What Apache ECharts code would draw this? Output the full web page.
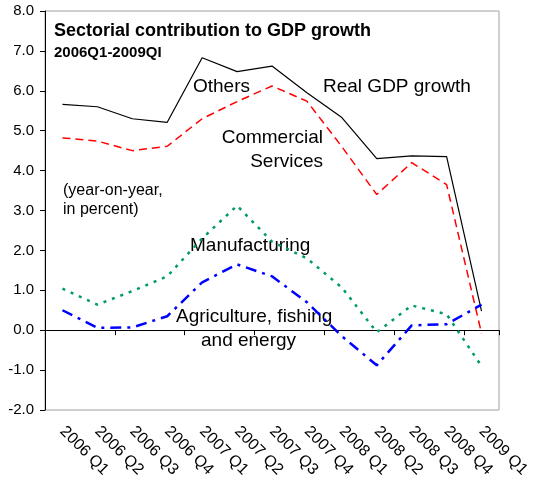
<!DOCTYPE html>
<html><head><meta charset="utf-8">
<script src="https://cdn.jsdelivr.net/npm/echarts@6/dist/echarts.min.js"></script>
<style>html,body{margin:0;padding:0;background:#fff}#c{width:537px;height:481px}</style>
</head><body><div id="c"></div>
<script>
var categories = ['2006 Q1','2006 Q2','2006 Q3','2006 Q4','2007 Q1','2007 Q2','2007 Q3','2007 Q4','2008 Q1','2008 Q2','2008 Q3','2008 Q4','2009 Q1'];
var realGDP = [5.66, 5.6, 5.3, 5.21, 6.83, 6.48, 6.62, 5.95, 5.33, 4.3, 4.37, 4.35, 0.48];
var commercial = [4.82, 4.74, 4.5, 4.61, 5.3, 5.73, 6.12, 5.74, 4.6, 3.4, 4.2, 3.65, -0.08];
var manufacturing = [1.04, 0.64, 0.98, 1.35, 2.3, 3.12, 2.22, 1.8, 1.07, -0.05, 0.62, 0.4, -0.9];
var agriculture = [0.5, 0.06, 0.07, 0.35, 1.2, 1.65, 1.35, 0.7, -0.15, -0.88, 0.12, 0.15, 0.64];
var yTicks = {min: -2, max: 8, interval: 1};

var FONT = '"Liberation Sans", Arial, sans-serif';
var chart = echarts.init(document.getElementById('c'), null, {renderer: 'canvas'});
function txt(x, y, s, size, extra) {
  return {type: 'text', x: x, y: y, style: Object.assign({text: s, font: size + 'px ' + FONT, fill: '#000', verticalAlign: 'middle'}, extra || {})};
}
chart.setOption({
  animation: false,
  backgroundColor: '#fff',
  grid: {left: 45, right: 38, top: 11, bottom: 71, show: true, borderColor: '#a0a0a0', borderWidth: 1, backgroundColor: 'transparent'},
  xAxis: [
    {type: 'category', data: categories, boundaryGap: true,
     axisLine: {onZero: true, lineStyle: {color: '#000', width: 1}},
     axisTick: {show: true, length: 5, lineStyle: {color: '#000'}},
     axisLabel: {show: false}, splitLine: {show: false}},
    {type: 'category', data: categories, boundaryGap: true, position: 'bottom',
     axisLine: {show: false, onZero: false}, axisTick: {show: false},
     axisLabel: {rotate: -45, margin: 19, fontFamily: FONT, fontSize: 16, color: '#000', interval: 0},
     splitLine: {show: false}}
  ],
  yAxis: {type: 'value', min: yTicks.min, max: yTicks.max, interval: yTicks.interval,
    axisLine: {show: true, lineStyle: {color: '#000'}},
    axisTick: {show: true, length: 5, lineStyle: {color: '#000'}},
    axisLabel: {fontFamily: FONT, fontSize: 15, color: '#000', margin: 11, formatter: function (v) { return v.toFixed(1); }},
    splitLine: {show: false}},
  series: [
    {name: 'Real GDP growth', type: 'line', data: realGDP, symbol: 'none', lineStyle: {color: '#000', width: 1.2}},
    {name: 'Commercial Services', type: 'line', data: commercial, symbol: 'none', lineStyle: {color: '#ff0000', width: 1.5, type: [8, 5]}},
    {name: 'Manufacturing', type: 'line', data: manufacturing, symbol: 'none', lineStyle: {color: '#009a66', width: 2.5, type: [3, 6]}},
    {name: 'Agriculture', type: 'line', data: agriculture, symbol: 'none', lineStyle: {color: '#0000ff', width: 2.5, type: [11, 6, 3, 6]}}
  ],
  graphic: [
    txt(54, 31, 'Sectorial contribution to GDP growth', 18, {font: 'bold 18px ' + FONT}),
    txt(54, 53, '2006Q1-2009QI', 15, {font: 'bold 15px ' + FONT}),
    txt(193, 87, 'Others', 19),
    txt(323, 87, 'Real GDP growth', 19),
    txt(323, 137.5, 'Commercial', 19, {align: 'right'}),
    txt(323, 162, 'Services', 19, {align: 'right'}),
    txt(63, 191, '(year-on-year,', 16),
    txt(63, 210, 'in percent)', 16),
    txt(190, 246, 'Manufacturing', 19),
    txt(176, 317, 'Agriculture, fishing', 19),
    txt(201, 341, 'and energy', 19)
  ]
});
</script></body></html>
